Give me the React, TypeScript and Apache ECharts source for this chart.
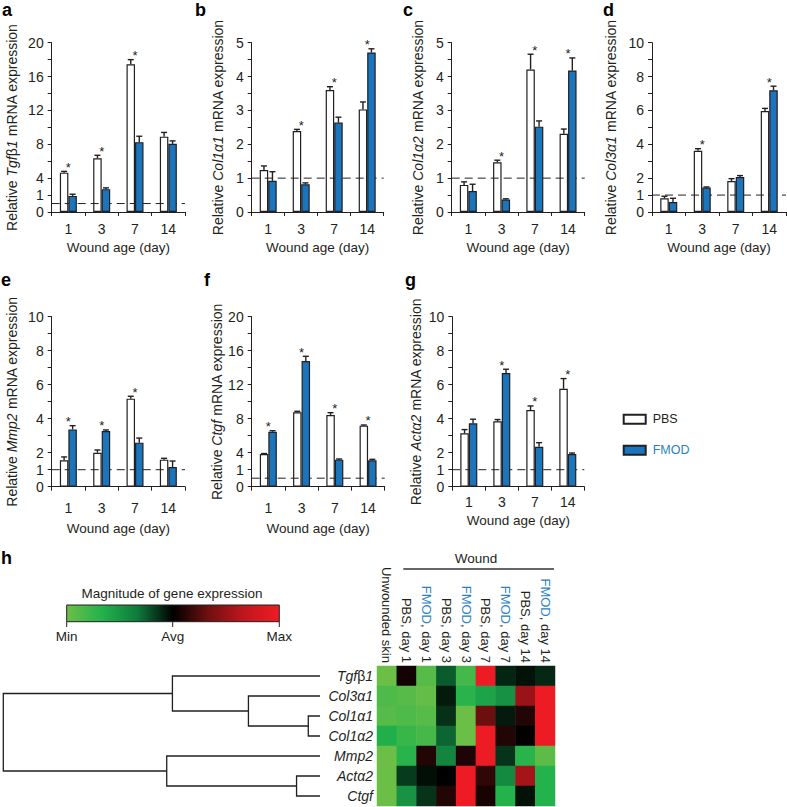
import React, { useEffect, useRef } from "react";
import * as echarts from "echarts";

const FONT = "'Liberation Sans', Arial, Helvetica, sans-serif";
const INK = "#231f20";
const BLUE = "#1b75bc";
const BLUE_TEXT = "#2a7fc6";

const woundDays = ["1", "3", "7", "14"];

// a  Tgfβ1
const tgfb1PBS = [4.65, 6.35, 17.45, 8.9];
const tgfb1PBSErr = [0.15, 0.35, 0.55, 0.5];
const tgfb1FMOD = [1.9, 2.7, 8.25, 8.05];
const tgfb1FMODErr = [0.2, 0.15, 0.7, 0.35];
const tgfb1Sig = [1, 1, 1, 0];
// b  Col1α1
const col1a1PBS = [1.24, 2.39, 3.6, 3.03];
const col1a1PBSErr = [0.12, 0.05, 0.1, 0.22];
const col1a1FMOD = [0.92, 0.82, 2.64, 4.71];
const col1a1FMODErr = [0.27, 0.04, 0.16, 0.11];
const col1a1Sig = [0, 1, 1, 1];
// c  Col1α2
const col1a2PBS = [0.8, 1.47, 4.21, 2.31];
const col1a2PBSErr = [0.09, 0.06, 0.45, 0.14];
const col1a2FMOD = [0.62, 0.37, 2.52, 4.18];
const col1a2FMODErr = [0.2, 0.02, 0.17, 0.37];
const col1a2Sig = [0, 1, 1, 1];
// d  Col3α1
const col3a1PBS = [0.81, 3.62, 1.83, 5.96];
const col3a1PBSErr = [0.12, 0.12, 0.14, 0.16];
const col3a1FMOD = [0.59, 1.44, 2.07, 7.19];
const col3a1FMODErr = [0.22, 0.04, 0.08, 0.24];
const col3a1Sig = [0, 1, 0, 1];
// e  Mmp2
const mmp2PBS = [1.55, 2.0, 5.18, 1.59];
const mmp2PBSErr = [0.2, 0.16, 0.14, 0.08];
const mmp2FMOD = [3.37, 3.28, 2.59, 1.16];
const mmp2FMODErr = [0.22, 0.06, 0.27, 0.35];
const mmp2Sig = [1, 1, 1, 0];
// f  Ctgf
const ctgfPBS = [3.85, 8.75, 8.44, 7.18];
const ctgfPBSErr = [0.05, 0.12, 0.27, 0.08];
const ctgfFMOD = [6.47, 14.79, 3.18, 3.1];
const ctgfFMODErr = [0.12, 0.55, 0.08, 0.12];
const ctgfSig = [1, 1, 1, 1];
// g  Actα2
const acta2PBS = [3.14, 3.85, 4.51, 5.76];
const acta2PBSErr = [0.22, 0.1, 0.24, 0.6];
const acta2FMOD = [3.73, 6.69, 2.35, 1.92];
const acta2FMODErr = [0.24, 0.22, 0.24, 0.06];
const acta2Sig = [0, 1, 1, 1];

// tick labels
const ticks20 = ["0", "1", "4", "", "8", "", "12", "", "16", "", "20"]; // step 2
const ticks5 = ["0", "", "1", "", "2", "", "3", "", "4", "", "5"]; // step 0.5
const ticks10 = ["0", "1", "2", "", "4", "", "6", "", "8", "", "10"]; // step 1

// heatmap (h)
const heatCols = [
  "Unwounded skin",
  "PBS, day 1",
  "FMOD, day 1",
  "PBS, day 3",
  "FMOD, day 3",
  "PBS, day 7",
  "FMOD, day 7",
  "PBS, day 14",
  "FMOD, day 14",
];
const heatGenes = ["Tgfβ1", "Col3α1", "Col1α1", "Col1α2", "Mmp2", "Actα2", "Ctgf"];
const heatTgfb1 = [-1, 0.06, -0.9, -0.25, -0.82, 1, -0.1, -0.05, -0.11];
const heatCol3a1 = [-0.86, -0.9, -0.96, -0.07, -0.7, -0.58, -0.47, 0.51, 1];
const heatCol1a1 = [-0.9, -0.86, -0.9, -0.13, -1, 0.32, -0.07, 0.1, 1];
const heatCol1a2 = [-0.65, -0.77, -0.83, -0.28, -1, 1, 0.1, 0.01, 1];
const heatMmp2 = [-1, -0.7, 0.1, -0.4, 0.09, 1, -0.14, -0.7, -0.93];
const heatActa2 = [-1, -0.16, -0.04, 0, 1, 0.14, -0.42, 0.55, -0.67];
const heatCtgf = [-1, -0.48, -0.14, 0.1, 1, 0.07, -0.67, -0.05, -0.67];
const heatRows = [heatTgfb1, heatCol3a1, heatCol1a1, heatCol1a2, heatMmp2, heatActa2, heatCtgf];

// dendrogram merges: [childA, childB, height]; leaves 0..6, merged nodes from 7
const dendroMerges = [
  [2, 3, 0.037],
  [1, 7, 0.226],
  [0, 8, 0.466],
  [5, 6, 0.074],
  [4, 10, 0.484],
  [9, 11, 1.0],
];

const heatColors = ["#6cbf46", "#22b24c", "#0f7a3c", "#000000", "#70100f", "#c0161d", "#ed1c24"];

const panelData = [
  { name: "Relative {i|Tgf}β{i|1} mRNA expression", pbs: tgfb1PBS, pbsErr: tgfb1PBSErr, fmod: tgfb1FMOD, fmodErr: tgfb1FMODErr, sig: tgfb1Sig, max: 20, step: 2, ticks: ticks20 },
  { name: "Relative {i|Col1α1} mRNA expression", pbs: col1a1PBS, pbsErr: col1a1PBSErr, fmod: col1a1FMOD, fmodErr: col1a1FMODErr, sig: col1a1Sig, max: 5, step: 0.5, ticks: ticks5 },
  { name: "Relative {i|Col1α2} mRNA expression", pbs: col1a2PBS, pbsErr: col1a2PBSErr, fmod: col1a2FMOD, fmodErr: col1a2FMODErr, sig: col1a2Sig, max: 5, step: 0.5, ticks: ticks5 },
  { name: "Relative {i|Col3α1} mRNA expression", pbs: col3a1PBS, pbsErr: col3a1PBSErr, fmod: col3a1FMOD, fmodErr: col3a1FMODErr, sig: col3a1Sig, max: 10, step: 1, ticks: ticks10 },
  { name: "Relative {i|Mmp2} mRNA expression", pbs: mmp2PBS, pbsErr: mmp2PBSErr, fmod: mmp2FMOD, fmodErr: mmp2FMODErr, sig: mmp2Sig, max: 10, step: 1, ticks: ticks10 },
  { name: "Relative {i|Ctgf} mRNA expression", pbs: ctgfPBS, pbsErr: ctgfPBSErr, fmod: ctgfFMOD, fmodErr: ctgfFMODErr, sig: ctgfSig, max: 20, step: 2, ticks: ticks20 },
  { name: "Relative {i|Actα2} mRNA expression", pbs: acta2PBS, pbsErr: acta2PBSErr, fmod: acta2FMOD, fmodErr: acta2FMODErr, sig: acta2Sig, max: 10, step: 1, ticks: ticks10 },
];

// layout (positions / sizes only)
const layouts = [
  { letter: "a", lx: 2, ly: 9.5, left: 51.7, top: 42.7, width: 133.3, height: 169.3, nameGap: 33, labMargin: 10, xNameGap: 28.5 },
  { letter: "b", lx: 195, ly: 9.5, left: 251.7, top: 42.7, width: 132, height: 169.3, nameGap: 26.5, labMargin: 10, xNameGap: 28.5 },
  { letter: "c", lx: 403, ly: 9.5, left: 451.7, top: 42.7, width: 133, height: 169.3, nameGap: 26.5, labMargin: 10, xNameGap: 28.5 },
  { letter: "d", lx: 603, ly: 9.5, left: 652, top: 42.7, width: 134, height: 169.3, nameGap: 34.5, labMargin: 10, xNameGap: 28.5 },
  { letter: "e", lx: 1, ly: 279.6, left: 51.7, top: 316.7, width: 133.3, height: 170, nameGap: 33, labMargin: 14, xNameGap: 34.5 },
  { letter: "f", lx: 204, ly: 279.6, left: 251.7, top: 316.7, width: 133, height: 170, nameGap: 26.5, labMargin: 14, xNameGap: 34.5 },
  { letter: "g", lx: 405, ly: 279.6, left: 452.3, top: 316.7, width: 132, height: 170, nameGap: 29, labMargin: 8, xNameGap: 26.5 },
];

const BAR_W = 8.5;
const CAP = 6;

function buildOption() {
  const grid: any[] = [];
  const xAxis: any[] = [];
  const yAxis: any[] = [];
  const series: any[] = [];
  const graphic: any[] = [];

  panelData.forEach((p, i) => {
    const l = layouts[i];
    grid.push({ left: l.left, top: l.top, width: l.width, height: l.height, outerBoundsMode: "none", containLabel: false });
    xAxis.push({
      type: "category",
      gridIndex: i,
      data: woundDays,
      axisLine: { lineStyle: { color: INK, width: 1 } },
      axisTick: { show: true, length: 4, interval: 0, lineStyle: { color: INK } },
      axisLabel: { interval: 0, margin: l.labMargin, fontSize: 14, color: INK, fontFamily: FONT },
      name: "Wound age (day)",
      nameLocation: "middle",
      nameGap: l.xNameGap,
      nameTextStyle: { fontSize: 13.5, color: INK, fontFamily: FONT },
      splitLine: { show: false },
    });
    xAxis.push({ type: "value", gridIndex: i, min: 0, max: 1, show: false });
    yAxis.push({
      type: "value",
      gridIndex: i,
      min: 0,
      max: p.max,
      interval: p.step,
      axisLine: { show: true, lineStyle: { color: INK, width: 1 } },
      axisTick: { show: true, length: 4, lineStyle: { color: INK } },
      splitLine: { show: false },
      axisLabel: {
        margin: 8,
        fontSize: 14,
        color: INK,
        fontFamily: FONT,
        formatter: (v: number) => p.ticks[Math.round(v / p.step)] ?? "",
      },
      name: p.name,
      nameLocation: "middle",
      nameRotate: 90,
      nameGap: l.nameGap,
      nameTextStyle: {
        fontSize: 14,
        color: INK,
        fontFamily: FONT,
        rich: { i: { fontStyle: "italic", fontSize: 14, color: INK, fontFamily: FONT } },
      },
    });
    const xi = i * 2;
    series.push({
      type: "line",
      xAxisIndex: xi + 1,
      yAxisIndex: i,
      data: [
        [0, 1],
        [1, 1],
      ],
      symbol: "none",
      silent: true,
      z: 1,
      lineStyle: { color: INK, width: 1, type: [8, 5] },
    });
    series.push({
      name: "PBS",
      type: "bar",
      xAxisIndex: xi,
      yAxisIndex: i,
      data: p.pbs,
      barWidth: BAR_W,
      barGap: "0%",
      z: 3,
      itemStyle: { color: "rgba(255,255,255,0)", borderColor: INK, borderWidth: 1.2 },
    });
    series.push({
      name: "FMOD",
      type: "bar",
      xAxisIndex: xi,
      yAxisIndex: i,
      data: p.fmod,
      barWidth: BAR_W,
      barGap: "0%",
      z: 3,
      itemStyle: { color: BLUE, borderColor: INK, borderWidth: 1.2 },
    });
    const errData: number[][] = [];
    p.pbs.forEach((v, k) => errData.push([k, v, p.pbsErr[k], 0]));
    p.fmod.forEach((v, k) => errData.push([k, v, p.fmodErr[k], 1]));
    series.push({
      type: "custom",
      xAxisIndex: xi,
      yAxisIndex: i,
      data: errData,
      z: 4,
      silent: true,
      renderItem: (_params: any, api: any) => {
        const cat = api.value(0);
        const v = api.value(1);
        const e = api.value(2);
        const side = api.value(3);
        const base = api.coord([cat, v]);
        const top = api.coord([cat, v + e]);
        const x = base[0] + (side ? 1 : -1) * (BAR_W / 2);
        return {
          type: "group",
          children: [
            { type: "line", shape: { x1: x, y1: base[1], x2: x, y2: top[1] }, style: { stroke: INK, lineWidth: 1.4 } },
            { type: "line", shape: { x1: x - CAP / 2, y1: top[1], x2: x + CAP / 2, y2: top[1] }, style: { stroke: INK, lineWidth: 1.4 } },
          ],
        };
      },
    });
    const starData: number[][] = [];
    p.sig.forEach((s, k) => {
      if (s) starData.push([k, Math.max(p.pbs[k] + p.pbsErr[k], p.fmod[k] + p.fmodErr[k])]);
    });
    series.push({
      type: "custom",
      xAxisIndex: xi,
      yAxisIndex: i,
      data: starData,
      z: 4,
      silent: true,
      renderItem: (_params: any, api: any) => {
        const pt = api.coord([api.value(0), api.value(1)]);
        return {
          type: "text",
          x: pt[0],
          y: pt[1] - 4,
          style: { text: "*", fill: INK, font: `13px ${FONT}`, align: "center", verticalAlign: "middle" },
        };
      },
    });
    graphic.push({
      type: "text",
      x: l.lx,
      y: l.ly,
      style: { text: l.letter, font: `bold 18px ${FONT}`, fill: "#000", verticalAlign: "middle" },
    });
  });

  // heatmap grid and dendrogram grid
  const hg = grid.length;
  grid.push({ left: 377, top: 666, width: 178, height: 140, outerBoundsMode: "none", containLabel: false });
  grid.push({ left: 3.3, top: 666, width: 316.7, height: 140, outerBoundsMode: "none", containLabel: false });
  const hx = xAxis.length;
  xAxis.push({
    type: "category",
    gridIndex: hg,
    data: heatCols,
    position: "top",
    axisLine: { show: false },
    axisTick: { show: false },
    splitLine: { show: false },
    axisLabel: {
      interval: 0,
      rotate: 90,
      margin: 3,
      fontSize: 13,
      color: INK,
      fontFamily: FONT,
      formatter: (v: string) => (v.startsWith("FMOD") ? "{f|FMOD}" + v.slice(4) : v),
      rich: { f: { color: BLUE_TEXT, fontSize: 13, fontFamily: FONT } },
    },
  });
  xAxis.push({ type: "value", gridIndex: hg + 1, min: 0, max: 1, inverse: true, show: false });
  const hy = yAxis.length;
  yAxis.push({
    type: "category",
    gridIndex: hg,
    data: heatGenes,
    inverse: true,
    axisLine: { show: false },
    axisTick: { show: false },
    splitLine: { show: false },
    axisLabel: {
      interval: 0,
      margin: 4,
      fontSize: 14,
      color: INK,
      fontFamily: FONT,
      formatter: (v: string) => (v === "Tgfβ1" ? "{i|Tgf}{n|β}{i|1}" : `{i|${v}}`),
      rich: {
        i: { fontStyle: "italic", fontSize: 14, color: INK, fontFamily: FONT },
        n: { fontStyle: "normal", fontSize: 14, color: INK, fontFamily: FONT },
      },
    },
  });
  yAxis.push({ type: "value", gridIndex: hg + 1, min: -0.5, max: 6.5, inverse: true, show: false });

  const heatData: number[][] = [];
  heatRows.forEach((row, r) => row.forEach((v, c) => heatData.push([c, r, v])));
  const heatSeriesIndex = series.length;
  series.push({
    type: "heatmap",
    xAxisIndex: hx,
    yAxisIndex: hy,
    data: heatData,
    itemStyle: { borderWidth: 0 },
    silent: true,
  });

  const nodes: { y: number; h: number }[] = heatGenes.map((_, i) => ({ y: i, h: 0 }));
  dendroMerges.forEach((m) => {
    nodes.push({ y: (nodes[m[0]].y + nodes[m[1]].y) / 2, h: m[2] });
  });
  series.push({
    type: "custom",
    xAxisIndex: hx + 1,
    yAxisIndex: hy + 1,
    data: dendroMerges.map((m, i) => [m[2], nodes[heatGenes.length + i].y]),
    silent: true,
    renderItem: (params: any, api: any) => {
      const m = dendroMerges[params.dataIndex];
      const a = nodes[m[0]];
      const b = nodes[m[1]];
      const h = m[2];
      const pts = [api.coord([a.h, a.y]), api.coord([h, a.y]), api.coord([h, b.y]), api.coord([b.h, b.y])];
      return { type: "polyline", shape: { points: pts }, style: { stroke: INK, lineWidth: 1.3, fill: "none" } };
    },
  });

  // panel h decorations
  const stops = heatColors.map((c, i) => ({ offset: i / (heatColors.length - 1), color: c }));
  graphic.push(
    { type: "text", x: 1, y: 557.6, style: { text: "h", font: `bold 18px ${FONT}`, fill: "#000", verticalAlign: "middle" } },
    { type: "text", x: 172, y: 593.3, style: { text: "Magnitude of gene expression", font: `13.5px ${FONT}`, fill: INK, align: "center", verticalAlign: "middle" } },
    {
      type: "rect",
      shape: { x: 66.7, y: 605, width: 212.6, height: 16.7 },
      style: { fill: new echarts.graphic.LinearGradient(0, 0, 1, 0, stops), stroke: INK, lineWidth: 1 },
    },
    { type: "line", shape: { x1: 66.7, y1: 621.7, x2: 66.7, y2: 627 }, style: { stroke: INK, lineWidth: 1 } },
    { type: "line", shape: { x1: 172.7, y1: 621.7, x2: 172.7, y2: 627 }, style: { stroke: INK, lineWidth: 1 } },
    { type: "line", shape: { x1: 279.3, y1: 621.7, x2: 279.3, y2: 627 }, style: { stroke: INK, lineWidth: 1 } },
    { type: "text", x: 66.7, y: 636.7, style: { text: "Min", font: `13.5px ${FONT}`, fill: INK, align: "center", verticalAlign: "middle" } },
    { type: "text", x: 172.7, y: 636.7, style: { text: "Avg", font: `13.5px ${FONT}`, fill: INK, align: "center", verticalAlign: "middle" } },
    { type: "text", x: 279.3, y: 636.7, style: { text: "Max", font: `13.5px ${FONT}`, fill: INK, align: "center", verticalAlign: "middle" } },
    { type: "text", x: 476, y: 558.3, style: { text: "Wound", font: `13.5px ${FONT}`, fill: INK, align: "center", verticalAlign: "middle" } },
    { type: "line", shape: { x1: 403.3, y1: 569, x2: 554, y2: 569 }, style: { stroke: "#333", lineWidth: 1.5 } }
  );

  return {
    animation: false,
    backgroundColor: "#ffffff",
    textStyle: { fontFamily: FONT },
    grid,
    xAxis,
    yAxis,
    series,
    graphic,
    visualMap: {
      type: "continuous",
      show: false,
      min: -1,
      max: 1,
      seriesIndex: heatSeriesIndex,
      inRange: { color: heatColors },
    },
    legend: {
      orient: "vertical",
      left: 622.7,
      top: 412.7,
      padding: 0,
      itemWidth: 22,
      itemHeight: 9,
      itemGap: 18,
      icon: "rect",
      textStyle: { fontSize: 12.5, color: INK, fontFamily: FONT, padding: [0, 0, 0, 2] },
      selectedMode: false,
      data: ["PBS", { name: "FMOD", textStyle: { color: BLUE_TEXT } }],
    },
  };
}

export default function App() {
  const ref = useRef<HTMLDivElement>(null);
  useEffect(() => {
    if (!ref.current) return;
    const chart = echarts.init(ref.current, undefined, { renderer: "svg" });
    chart.setOption(buildOption() as any);
    return () => chart.dispose();
  }, []);
  return <div ref={ref} style={{ position: "absolute", left: 0, top: 0, width: 787, height: 807 }} />;
}
